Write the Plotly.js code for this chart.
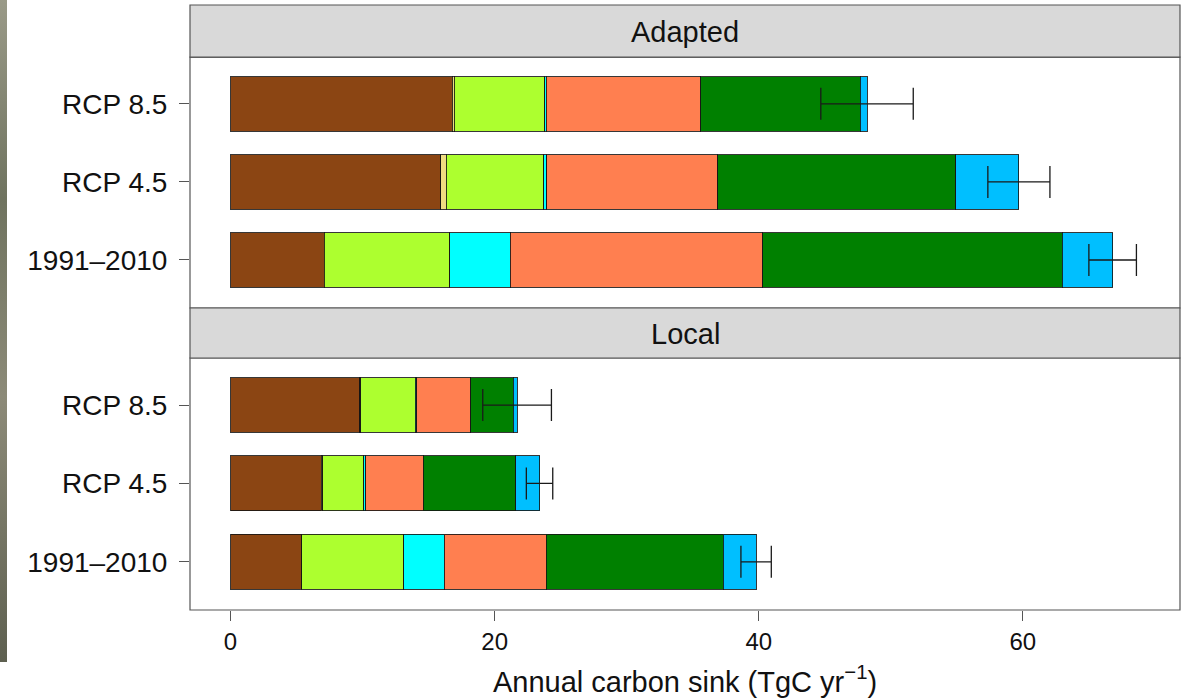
<!DOCTYPE html>
<html>
<head>
<meta charset="utf-8">
<script src="https://cdn.plot.ly/plotly-3.0.1.min.js"></script>
<style>
html,body{margin:0;padding:0;background:#fff;}
#wrap{position:relative;width:1188px;height:698px;}
#edge{position:absolute;left:0;top:0;width:7px;height:662px;background:linear-gradient(180deg,#9a9a88,#6f735f 30%,#8c8a78 60%,#5e6050 100%);z-index:5;}
#chart{width:1188px;height:698px;}
</style>
</head>
<body>
<div id="wrap"><div id="edge"></div><div id="chart"></div></div>
<script>
// Categories (bottom to top within each panel)
const categories = ["1991–2010", "RCP 4.5", "RCP 8.5"];
const components = ["c1", "c2", "c3", "c4", "c5", "c6", "c7"];
const colors = ["#8B4513", "#EEDC82", "#ADFF2F", "#00FFFF", "#FF7F50", "#008000", "#00BFFF"];

// Adapted panel values per component (1991–2010, RCP 4.5, RCP 8.5)
const adaptedC1 = [7.1, 15.9, 16.8];
const adaptedC2 = [0, 0.45, 0.15];
const adaptedC3 = [9.5, 7.35, 6.85];
const adaptedC4 = [4.6, 0.25, 0.1];
const adaptedC5 = [19.1, 12.95, 11.7];
const adaptedC6 = [22.7, 18.0, 12.1];
const adaptedC7 = [3.8, 4.8, 0.5];
const adaptedErr = [1.8, 2.35, 3.5];

// Local panel values per component
const localC1 = [5.4, 6.85, 9.8];
const localC2 = [0, 0.15, 0.05];
const localC3 = [7.7, 3.1, 4.15];
const localC4 = [3.1, 0.15, 0.1];
const localC5 = [7.7, 4.35, 4.1];
const localC6 = [13.4, 7.0, 3.2];
const localC7 = [2.5, 1.8, 0.3];
const localErr = [1.15, 1.0, 2.6];

const xTickVals = [0, 20, 40, 60];

const adapted = [adaptedC1, adaptedC2, adaptedC3, adaptedC4, adaptedC5, adaptedC6, adaptedC7];
const local = [localC1, localC2, localC3, localC4, localC5, localC6, localC7];
const ypos = categories.map((c, i) => i);

function sums(groups) {
  return ypos.map(i => groups.reduce((s, g) => s + g[i], 0));
}

const traces = [];
function addPanel(groups, errs, xa, ya) {
  groups.forEach((g, k) => {
    traces.push({
      type: 'bar', orientation: 'h', x: g, y: ypos,
      xaxis: xa, yaxis: ya, width: 0.7,
      marker: {color: colors[k], line: {color: 'rgba(20,20,20,0.85)', width: 1}},
      showlegend: false, hoverinfo: 'x'
    });
  });
  traces.push({
    type: 'scatter', mode: 'markers', x: sums(groups), y: ypos,
    xaxis: xa, yaxis: ya,
    marker: {size: 1, color: 'rgba(0,0,0,0)'},
    error_x: {type: 'data', array: errs, visible: true, color: '#1a1a1a', thickness: 1.3, width: 16},
    showlegend: false, hoverinfo: 'skip'
  });
}
addPanel(local, localErr, 'x', 'y');
addPanel(adapted, adaptedErr, 'x2', 'y2');

const xr = [-3.07, 71.9];
const yr = [-0.615, 2.6];
const FAM = '"Liberation Sans", Arial, sans-serif';
const font = {family: FAM, color: '#111'};

const dLocal = [0, 0.4165], dLocalStrip = [0.4165, 0.4992];
const dAd = [0.4992, 0.914], dAdStrip = [0.914, 1];

const yCommon = {
  range: yr, tickvals: ypos, ticktext: categories, showgrid: false, zeroline: false,
  ticks: 'outside', ticklen: 10, tickcolor: '#555', tickwidth: 1, ticklabelstandoff: 6,
  tickfont: {size: 28, family: FAM, color: '#111'}, showline: false, fixedrange: true
};

const layout = {
  width: 1188, height: 698,
  margin: {l: 190, r: 8, t: 5, b: 88},
  paper_bgcolor: '#fff', plot_bgcolor: '#fff',
  barmode: 'stack', bargap: 0.3, showlegend: false,
  font: font,
  xaxis: {
    range: xr, anchor: 'y', tickvals: xTickVals, showgrid: false, zeroline: false,
    ticks: 'outside', ticklen: 10, tickcolor: '#555', tickwidth: 1,
    tickfont: {size: 24, family: FAM, color: '#111'},
    title: {text: 'Annual carbon sink (TgC yr<sup>−1</sup>)', font: {size: 29, family: FAM, color: '#111'}, standoff: 17},
    showline: false
  },
  xaxis2: {
    range: xr, anchor: 'y2', matches: 'x', showgrid: false, zeroline: false,
    showticklabels: false, ticks: '', showline: false
  },
  yaxis: Object.assign({domain: dLocal, anchor: 'x'}, yCommon),
  yaxis2: Object.assign({domain: dAd, anchor: 'x2'}, yCommon),
  shapes: [
    {type: 'rect', xref: 'paper', yref: 'paper', x0: 0, x1: 1, y0: dLocal[0], y1: dLocal[1], line: {color: '#555', width: 1.2}, fillcolor: 'rgba(0,0,0,0)', layer: 'above'},
    {type: 'rect', xref: 'paper', yref: 'paper', x0: 0, x1: 1, y0: dAd[0], y1: dAd[1], line: {color: '#555', width: 1.2}, fillcolor: 'rgba(0,0,0,0)', layer: 'above'},
    {type: 'rect', xref: 'paper', yref: 'paper', x0: 0, x1: 1, y0: dLocalStrip[0], y1: dLocalStrip[1], line: {color: '#555', width: 1.2}, fillcolor: '#D9D9D9'},
    {type: 'rect', xref: 'paper', yref: 'paper', x0: 0, x1: 1, y0: dAdStrip[0], y1: dAdStrip[1], line: {color: '#555', width: 1.2}, fillcolor: '#D9D9D9'}
  ],
  annotations: [
    {xref: 'paper', yref: 'paper', x: 0.5, y: (dAdStrip[0] + dAdStrip[1]) / 2, yshift: -1, text: 'Adapted', showarrow: false, font: {size: 29, family: FAM, color: '#111'}, xanchor: 'center', yanchor: 'middle'},
    {xref: 'paper', yref: 'paper', x: 0.5, y: (dLocalStrip[0] + dLocalStrip[1]) / 2, yshift: -1, text: 'Local', showarrow: false, font: {size: 29, family: FAM, color: '#111'}, xanchor: 'center', yanchor: 'middle'}
  ]
};

Plotly.newPlot('chart', traces, layout, {displayModeBar: false, staticPlot: true});
</script>
</body>
</html>
